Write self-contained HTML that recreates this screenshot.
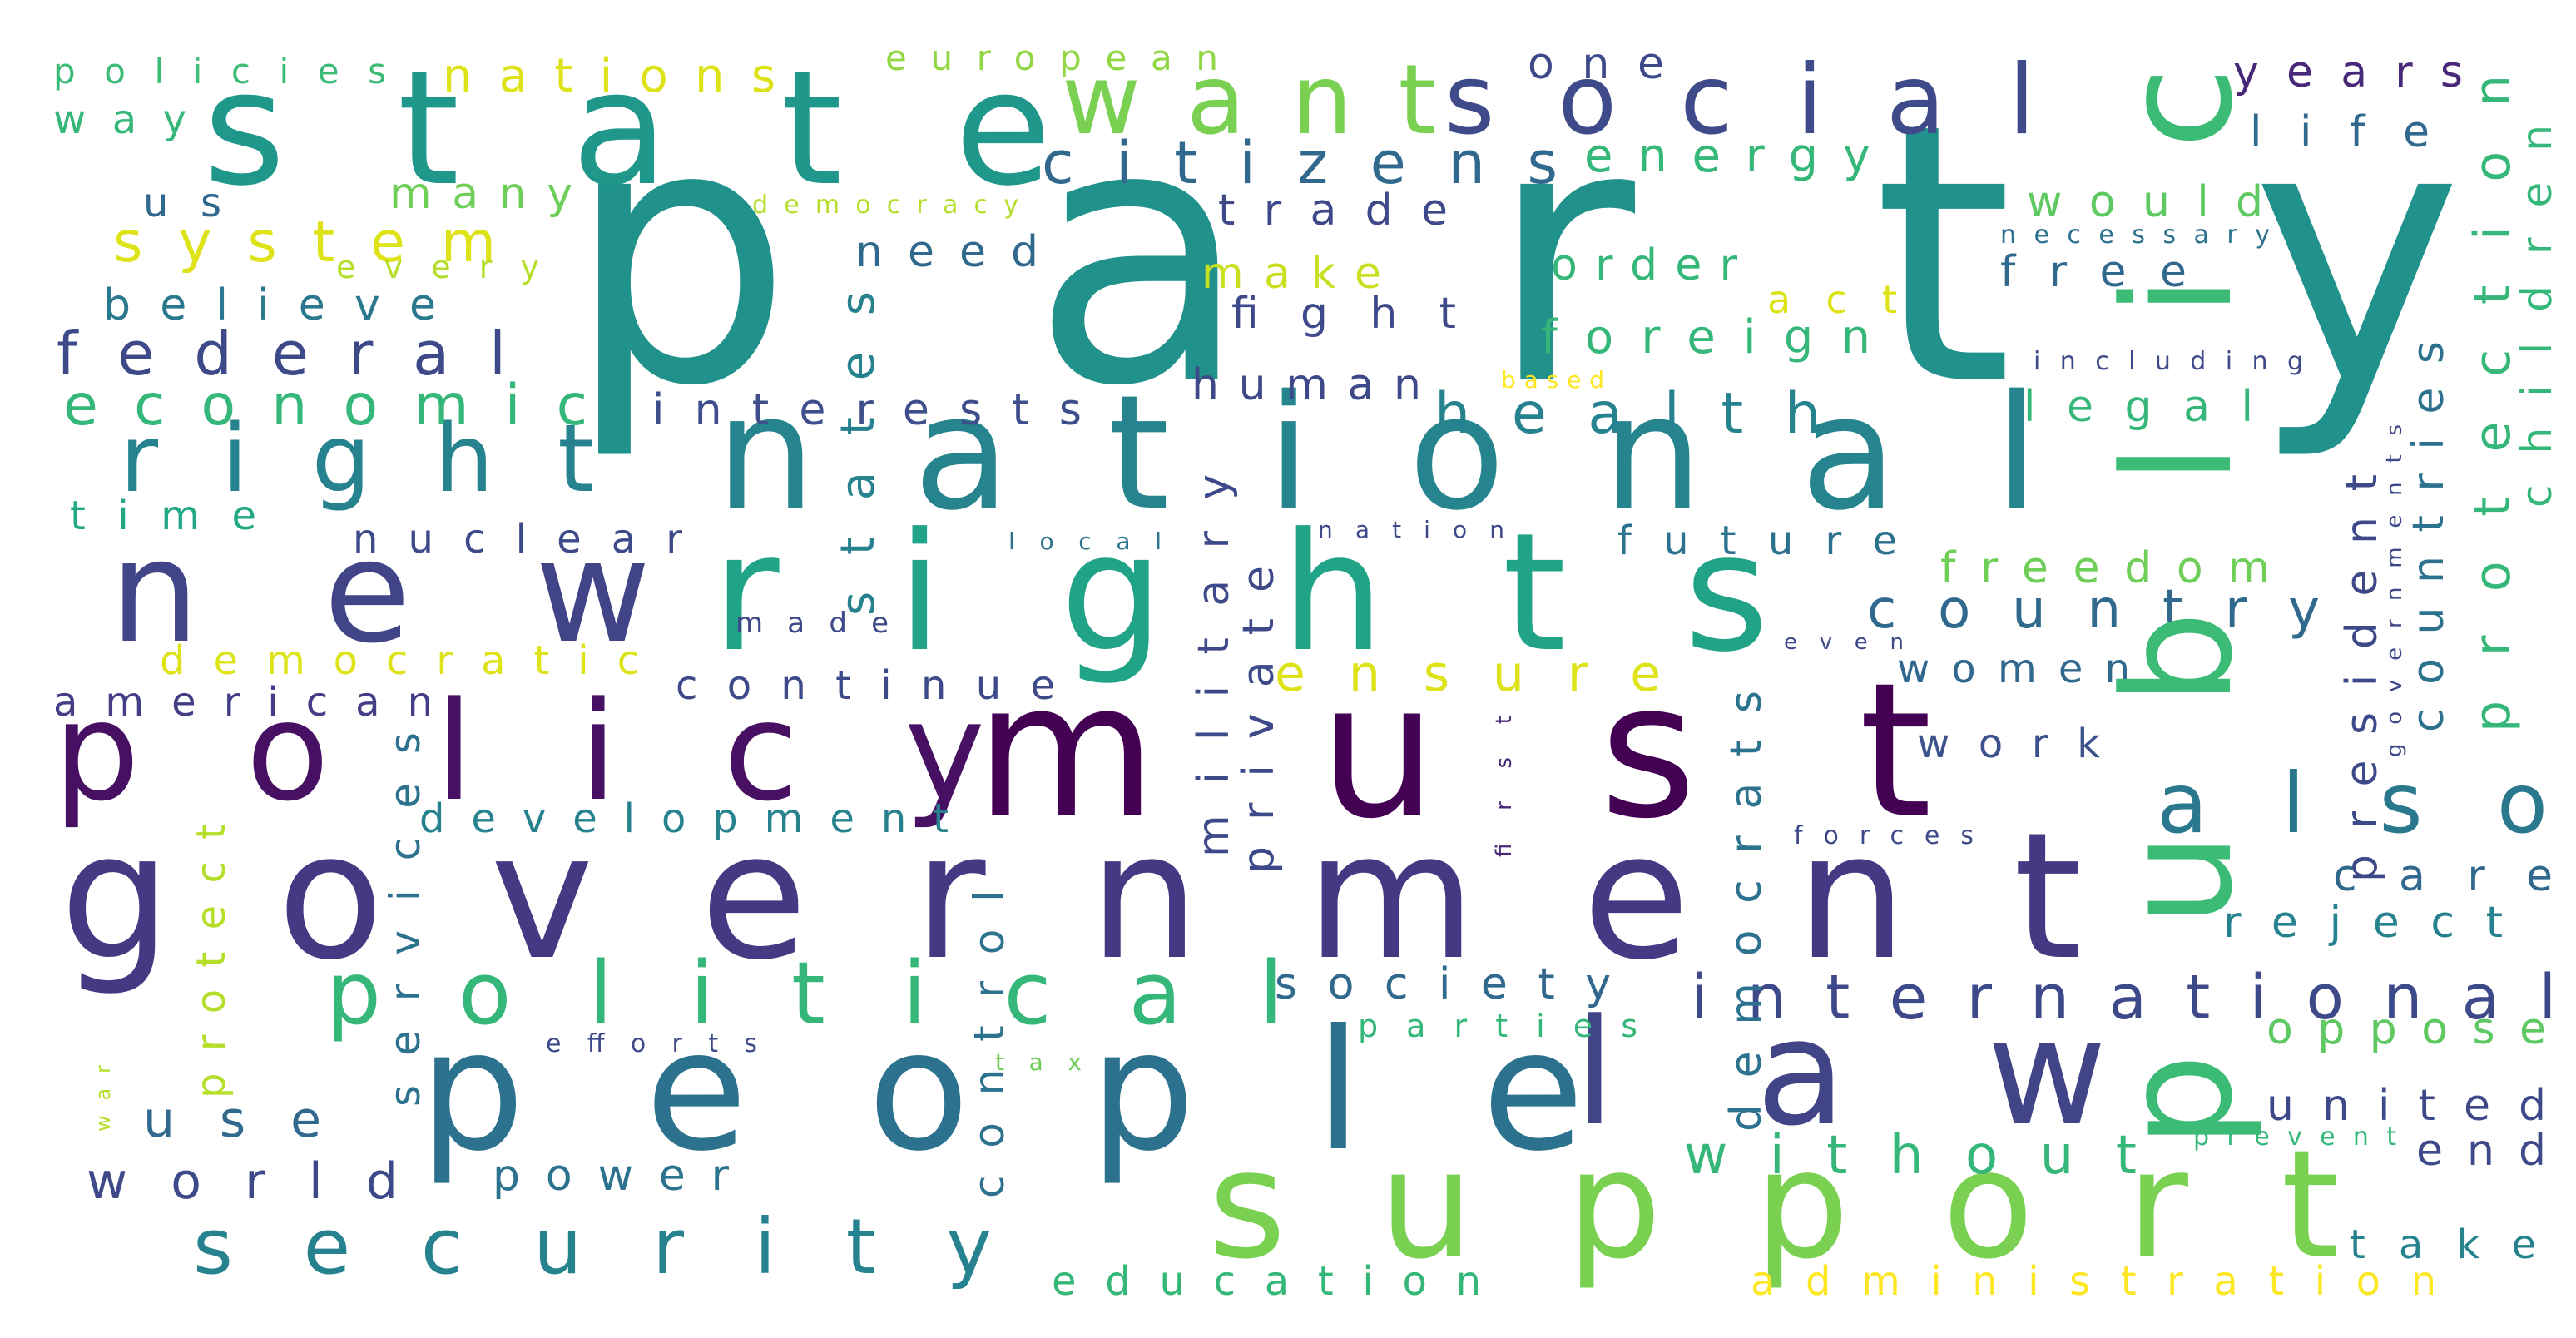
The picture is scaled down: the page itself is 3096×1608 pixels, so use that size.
<!DOCTYPE html>
<html><head><meta charset="utf-8"><style>
html,body{margin:0;padding:0;background:#fff;}
svg{display:block;}
text{font-family:"DejaVu Sans","Liberation Sans",sans-serif;}
</style></head><body>
<svg id="cloud" width="3096" height="1608" viewBox="0 0 1548 804" xmlns="http://www.w3.org/2000/svg">
<rect width="1548" height="804" fill="#fff"/>
<g id="words"></g>
</svg>
<script>
const words = ["party","state","social","want","national","rights","new","right","must","policy","government","people","law","support","political","security","also","international","citizens","energy","one","european","nations","policies","way","us","many","system","democracy","every","believe","federal","economic","time","nuclear","democratic","american","development","continue","interests","made","local","need","trade","make","fight","human","order","act","foreign","based","health","future","freedom","country","women","work","ensure","nation","even","forces","would","necessary","free","including","legal","years","life","care","reject","oppose","united","prevent","end","take","administration","education","society","parties","without","tax","efforts","power","world","use","public","protect","services","states","control","military","private","democrats","president","governments","countries","protection","children","war","first"];
const sizes = [215,95,58,58,95,98,85,56,112,82,105,100,88,90,52,46,50,37,35,28,26,21,28,21,24,24,26,34,15,19,26,36,34,24,24,24,24,24,24,26,17,14,26,26,26,26,26,26,23,28,14,34,24,26,32,24,24,30,14,13,15,26,15,26,15,26,26,26,26,26,26,26,15,26,24,24,24,26,19,32,14,15,26,30,30,90,24,25,28,25,26,26,26,26,13,26,30,25,12,13];
const xs = [340,122,868,638,430,428,66,72,586,32,36,252,946,726,196,116,1296,1016,626,952,918,532,266,32,32,86,234,68,452,202,62,34,38,42,212,96,32,252,406,392,442,606,514,732,722,740,716,932,1062,926,902,862,972,1166,1122,1140,1152,766,792,1072,1078,1218,1202,1202,1222,1216,1342,1352,1402,1336,1362,1362,1318,1452,1412,1052,632,766,816,1012,598,328,296,52,86,1340,135,252,525,603,738,765,1058,1428,1443,1468,1508,1533,66,908];
const ys = [228,110,80,80,305,390,385,295,490,480,575,690,675,755,615,765,500,612,110,103,47,42,55,50,80,130,125,157,128,167,192,225,255,318,332,405,430,500,420,255,380,330,160,135,173,197,240,168,188,212,233,260,333,350,377,410,455,415,323,390,507,130,146,172,222,253,52,88,535,563,627,673,688,700,756,778,778,600,623,705,643,632,715,720,683,690,660,665,370,720,515,525,680,530,455,440,440,305,680,515];
const lens = [1140,510,355,225,795,635,325,285,575,560,1215,700,320,680,575,480,235,520,310,172,82,200,200,200,80,47,110,230,160,122,200,270,315,112,198,288,228,318,228,258,92,92,110,138,108,135,138,112,78,198,62,232,168,198,272,140,110,232,112,72,108,142,162,112,162,138,138,108,132,168,168,168,122,78,112,412,258,202,168,272,52,127,142,187,107,650,165,225,195,185,230,185,265,245,200,235,395,230,40,85];
const colors = ["#21918c","#1f988b","#3e4a89","#7ad151","#25848e","#20a386","#414487","#26828e","#440154","#471063","#443983","#2c728e","#414487","#7ad151","#35b779","#26828e","#2a788e","#3e4989","#31688e","#35b779","#3e4989","#90d743","#dde318","#3bbb75","#35b779","#31688e","#6ece58","#dde318","#b5de2b","#b5de2b","#2a788e","#3e4989","#35b779","#22a884","#3e4989","#dde318","#433e85","#26828e","#3e4989","#3d4e8a","#3e4989","#2c728e","#31688e","#3e4989","#c8e020","#3e4989","#3e4989","#35b779","#dde318","#35b779","#fde725","#26828e","#2c728e","#6ece58","#31688e","#31688e","#3b528b","#dde318","#3e4989","#3e4989","#3e4989","#5ec962","#2c728e","#31688e","#3e4989","#35b779","#482878","#31688e","#31688e","#26828e","#5ec962","#3e4989","#35b779","#3e4989","#26828e","#fde725","#35b779","#31688e","#35b779","#35b779","#6ece58","#3e4989","#2c728e","#3e4989","#31688e","#3bbb75","#b5de2b","#2c728e","#26828e","#2c728e","#3e4989","#3e4989","#2c728e","#3e4989","#3e4989","#2c728e","#35b779","#35b779","#b5de2b","#482878"];
const rotated = ["public","protect","services","states","control","military","private","democrats","president","governments","countries","protection","children","war","first"];

const g = document.getElementById('words');
const NS = 'http://www.w3.org/2000/svg';
words.forEach((w, i) => {
  const t = document.createElementNS(NS, 'text');
  
  
  t.setAttribute('font-size', sizes[i]);
  t.setAttribute('fill', colors[i]);
  t.setAttribute('textLength', lens[i]);
  t.setAttribute('lengthAdjust', 'spacing');
  if (rotated.includes(w)) {
    t.setAttribute('x', 0);
    t.setAttribute('y', 0);
    t.setAttribute('transform', 'translate(' + xs[i] + ',' + ys[i] + ') rotate(-90)');
  } else {
    t.setAttribute('x', xs[i]);
    t.setAttribute('y', ys[i]);
  }
  t.textContent = w;
  g.appendChild(t);
});
</script>
</body></html>
